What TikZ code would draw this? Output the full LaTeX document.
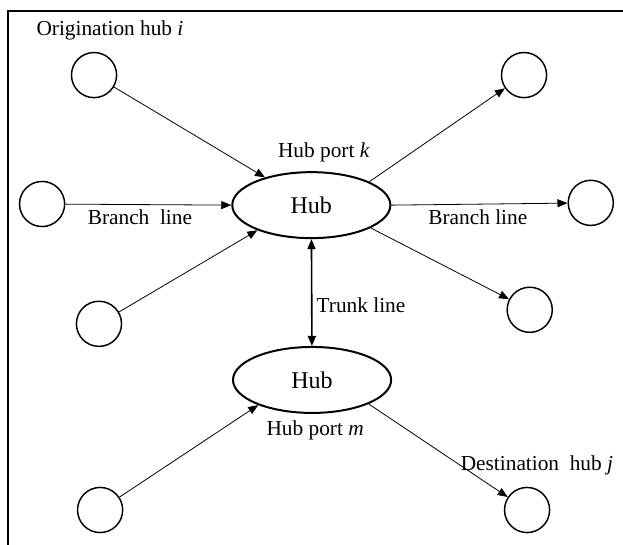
\documentclass[tikz,border=0pt]{standalone}
\usepackage{fontspec}
\setmainfont{Liberation Serif}
\usetikzlibrary{arrows.meta,shapes.geometric,positioning}

\tikzset{
  station/.style={circle, draw, line width=1.1pt, minimum size=1.19cm, inner sep=0pt},
  hubnode/.style={ellipse, draw, line width=1.5pt, minimum width=4.17cm, minimum height=1.74cm, inner sep=0pt, font=\fontsize{18}{20}\selectfont},
  lbl/.style={font=\fontsize{16}{18}\selectfont, inner sep=0pt},
  flow/.style={-{Triangle[length=7.5pt,width=6pt]}, line width=0.6pt},
  trunk/.style={{Triangle[length=7.5pt,width=6pt]}-{Triangle[length=7.5pt,width=6pt]}, line width=1.2pt},
}

\begin{document}
\begin{tikzpicture}
        \useasboundingbox (0,0) rectangle (16.43,14.37);
        % frame (top and left only)
        \draw[line width=1.5pt] (0.21,0) -- (0.21,14.08) -- (16.5,14.08);
        % hubs
        \node[hubnode] (hubk) at (8.21,8.96) {Hub};
        \node[hubnode] (hubm) at (8.23,4.35) {Hub};
        % spokes
        \node[station] (orig) at (2.48,12.39) {};
        \node[station] (west) at (1.11,8.99) {};
        \node[station] (sw) at (2.61,5.83) {};
        \node[station] (ne) at (13.82,12.39) {};
        \node[station] (east) at (15.58,9.02) {};
        \node[station] (se) at (13.97,6.20) {};
        \node[station] (botl) at (2.64,0.92) {};
        \node[station] (dest) at (13.90,0.92) {};
        % labels
        \node[lbl] (lorig) at (2.90,13.57) {Origination hub \textit{i}};
        \node[lbl] (lportk) at (8.54,10.36) {Hub port \textit{k}};
        \node[lbl] (lbrw) at (3.69,8.65) {Branch~~line};
        \node[lbl] (lbre) at (12.60,8.65) {Branch line};
        \node[lbl] (ltrunk) at (9.52,6.33) {Trunk line};
        \node[lbl] (lportm) at (8.31,3.03) {Hub port \textit{m}};
        \node[lbl] (ldest) at (14.16,2.11) {Destination~~hub \textit{j}};
        % branch lines
        \draw[flow] (orig) -- (hubk);
        \draw[flow] (west) -- (hubk.west);
        \draw[flow] (sw) -- (hubk.205);
        \draw[flow] (hubk.22) -- (ne);
        \draw[flow] (hubk.east) -- (east);
        \draw[flow] (hubk.-21) -- (se);
        \draw[flow] (botl) -- (hubm.205);
        \draw[flow] (hubm.-23) -- (dest);
        % trunk line
        \draw[trunk] (hubk) -- (hubm);
      \end{tikzpicture}
\end{document}
